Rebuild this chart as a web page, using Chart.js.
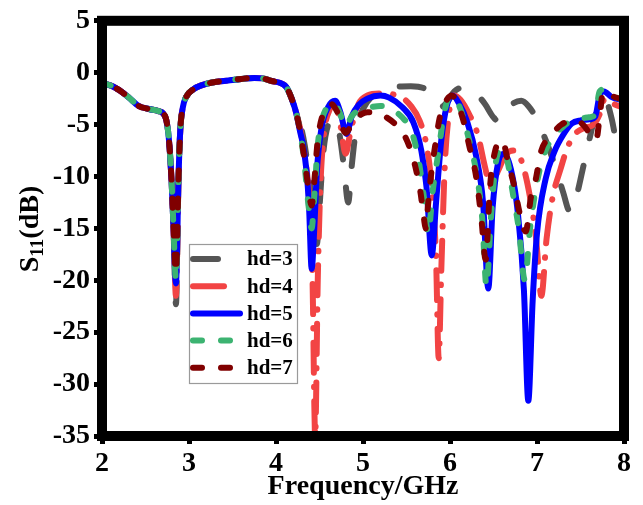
<!DOCTYPE html>
<html>
<head>
<meta charset="utf-8">
<script src="https://cdn.jsdelivr.net/npm/chart.js@4.4.1/dist/chart.umd.min.js"></script>
<style>
  html, body { margin: 0; padding: 0; background: #fff; }
  #wrap { width: 643px; height: 505px; }
</style>
</head>
<body>
<div id="wrap"><canvas id="s11-chart" width="643" height="505"></canvas></div>
<script>
'use strict';

// *** DATA ***

let seriesNames = ['hd=3', 'hd=4', 'hd=5', 'hd=6', 'hd=7'];
let seriesColors = ['#555555', '#f24444', '#0000ff', '#3cb371', '#800000'];

let xTicks = [2, 3, 4, 5, 6, 7, 8];
let yTicks = [-35, -30, -25, -20, -15, -10, -5, 0, 5];

// low band is the same for every hd
let sharedFreqA = [2.0, 2.05, 2.12, 2.2, 2.31, 2.42, 2.54, 2.65, 2.7, 2.74, 2.77, 2.8, 2.82];
let sharedS11A = [-1.0, -1.1, -1.3, -1.7, -2.4, -3.2, -3.5, -3.7, -3.9, -4.6, -6.5, -10.5, -14.5];

let firstDipFreq = 2.85;
let firstDipS11 = [-22.3, -21.5, -20.3, -20.0, -19.3];

let sharedFreqB = [2.88, 2.9, 2.93, 2.97, 3.05, 3.15, 3.3, 3.45, 3.6, 3.75, 3.85, 3.95, 4.05, 4.12, 4.18, 4.23];
let sharedS11B = [-10, -5.5, -3.3, -2.3, -1.6, -1.2, -0.9, -0.75, -0.6, -0.5, -0.55, -0.8, -1.0, -1.4, -2.5, -3.8];

// hd=3
let hd3Freq = [4.28, 4.33, 4.38, 4.43, 4.47, 4.5, 4.54, 4.6, 4.66, 4.72, 4.78, 4.83, 4.87, 4.92, 5.0, 5.1, 5.25, 5.4, 5.55, 5.7, 5.8, 5.9, 5.97, 6.05, 6.17, 6.3, 6.4, 6.5, 6.56, 6.64, 6.72, 6.82, 6.9, 7.0, 7.1, 7.2, 7.3, 7.38, 7.45, 7.52, 7.6, 7.68, 7.75, 7.8, 7.86, 7.92, 8.0];
let hd3S11 = [-5.0, -7.0, -10, -14, -16.5, -13, -8, -5, -4.5, -5.5, -9, -12.5, -9, -5.5, -3.5, -2.3, -1.6, -1.35, -1.3, -1.5, -2.3, -3.3, -2.8, -1.8, -1.4, -2.0, -3.0, -4.3, -4.7, -3.8, -3.0, -2.7, -3.2, -4.5, -6.5, -8.8, -11.5, -13.4, -12, -9.5, -6.5, -3.8, -2.6, -2.8, -4.5, -7, -8.5];

// hd=4
let hd4Freq = [4.28, 4.33, 4.38, 4.42, 4.45, 4.48, 4.51, 4.55, 4.62, 4.68, 4.74, 4.8, 4.86, 4.95, 5.05, 5.2, 5.35, 5.45, 5.55, 5.65, 5.73, 5.79, 5.84, 5.87, 5.9, 5.94, 5.98, 6.04, 6.12, 6.22, 6.32, 6.4, 6.47, 6.55, 6.65, 6.75, 6.83, 6.92, 6.99, 7.05, 7.11, 7.18, 7.27, 7.35, 7.45, 7.55, 7.65, 7.72, 7.78, 7.88, 8.0];
let hd4S11 = [-5.5, -8, -12, -20, -35, -20, -11, -6, -3.5, -3.0, -5, -7.8, -5.5, -3.0, -2.2, -2.0, -2.1, -2.4, -3.2, -4.6, -7, -11, -18, -27.5, -19, -9, -4.5, -2.2, -2.6, -4, -6, -9, -11, -9.5, -7.8, -7.5, -8.7, -12, -16, -21.5, -16, -12, -9.3, -7.2, -5.8, -5.3, -5.0, -4, -2.5, -3.0, -3.4];

// hd=5
let hd5Freq = [4.28, 4.3, 4.35, 4.38, 4.41, 4.44, 4.47, 4.52, 4.6, 4.68, 4.74, 4.81, 4.87, 4.95, 5.05, 5.2, 5.3, 5.45, 5.58, 5.67, 5.73, 5.79, 5.84, 5.9, 5.96, 6.03, 6.1, 6.2, 6.3, 6.38, 6.44, 6.49, 6.55, 6.62, 6.7, 6.78, 6.85, 6.9, 6.95, 7.0, 7.1, 7.2, 7.3, 7.4, 7.5, 7.6, 7.67, 7.72, 7.77, 7.85, 7.95, 8.0];
let hd5S11 = [-5.8, -6.5, -9.4, -13, -18.9, -15, -9.5, -5.5, -3.3, -2.7, -3.8, -5.9, -4.2, -3.1, -2.5, -2.2, -2.4, -3.3, -4.8, -7.5, -11, -17.6, -12.5, -6.5, -3.3, -2.2, -2.9, -4.8, -8, -12.5, -20.8, -13, -8.8, -7.8, -9.3, -13.5, -21, -31.6, -22, -15.5, -10.2, -7.6, -6, -4.9, -4.6, -4.5, -4.2, -2.2, -1.8, -2.3, -2.6, -2.7];

// hd=6
let hd6Freq = [4.28, 4.33, 4.37, 4.41, 4.44, 4.48, 4.53, 4.6, 4.66, 4.73, 4.8, 4.87, 4.95, 5.1, 5.2, 5.32, 5.45, 5.55, 5.63, 5.7, 5.75, 5.8, 5.87, 5.93, 6.0, 6.05, 6.12, 6.22, 6.3, 6.37, 6.42, 6.47, 6.53, 6.6, 6.66, 6.72, 6.79, 6.86, 6.92, 6.98, 7.05, 7.15, 7.3, 7.4, 7.5, 7.6, 7.67, 7.72, 7.77, 7.85, 7.95, 8.0];
let hd6S11 = [-5.8, -9, -12.5, -15, -12, -7, -4.5, -3.2, -2.9, -3.8, -5.2, -4.2, -3.6, -3.3, -3.2, -3.5, -4.3, -5.5, -8, -12, -15.5, -11.5, -7.5, -4, -2.3, -2.4, -3.5, -6.5, -9.5, -14, -20.6, -14, -8.5, -7.3, -8.5, -11.5, -15, -20, -15, -11.5, -8.7, -6.6, -5.2, -4.6, -4.4, -4.3, -4.0, -1.8, -1.6, -2.1, -2.5, -2.6];

// hd=7
let hd7Freq = [4.28, 4.33, 4.37, 4.41, 4.44, 4.48, 4.54, 4.63, 4.7, 4.8, 4.87, 4.95, 5.05, 5.15, 5.25, 5.35, 5.46, 5.55, 5.6, 5.66, 5.7, 5.72, 5.75, 5.78, 5.83, 5.88, 5.95, 6.02, 6.08, 6.15, 6.22, 6.3, 6.36, 6.41, 6.46, 6.52, 6.6, 6.67, 6.74, 6.8, 6.87, 6.93, 6.98, 7.05, 7.15, 7.28, 7.45, 7.55, 7.63, 7.68, 7.72, 7.76, 7.85, 7.95, 8.0];
let hd7S11 = [-5.8, -8.5, -11, -12.8, -10.5, -6.5, -4, -3.0, -3.7, -5.8, -5.0, -4.2, -3.8, -3.8, -4.2, -4.8, -5.8, -7.5, -9, -11.5, -14, -15, -12.5, -10, -7, -4.4, -2.8, -2.2, -2.8, -4.5, -7, -10, -14, -18, -11, -7.5, -6.5, -8.7, -11, -13.5, -15.3, -12, -10.5, -7.5, -6.2, -5, -4.6, -5.2, -6.2, -6.5, -4.3, -1.8, -2.2, -2.5, -2.6];

let highFreqs = [hd3Freq, hd4Freq, hd5Freq, hd6Freq, hd7Freq];
let highS11s = [hd3S11, hd4S11, hd5S11, hd6S11, hd7S11];

// *** STYLE ***

let fontFamily = "'Liberation Serif', 'Times New Roman', serif";
let lineDashes = [[24, 28], [30, 14, 0.5, 14], [], [9, 19], [9, 19]];
let dashOffsets = [0, 0, 0, 0, 12];
let drawOrder = [5, 4, 3, 2, 1];

// *** HELPERS ***

function buildPoints(i) {
  let pts = [];
  for (let k = 0; k < sharedFreqA.length; k++) {
    pts.push({ x: sharedFreqA[k], y: sharedS11A[k] });
  }
  pts.push({ x: firstDipFreq, y: firstDipS11[i] });
  for (let k = 0; k < sharedFreqB.length; k++) {
    pts.push({ x: sharedFreqB[k], y: sharedS11B[k] });
  }
  for (let k = 0; k < highFreqs[i].length; k++) {
    pts.push({ x: highFreqs[i][k], y: highS11s[i][k] });
  }
  return pts;
}

let datasets = [];
for (let i = 0; i < seriesNames.length; i++) {
  datasets.push({
    label: seriesNames[i],
    data: buildPoints(i),
    borderColor: seriesColors[i],
    backgroundColor: seriesColors[i],
    borderWidth: 6,
    borderDash: lineDashes[i],
    borderDashOffset: dashOffsets[i],
    borderCapStyle: 'round',
    borderJoinStyle: 'round',
    pointRadius: 0,
    cubicInterpolationMode: 'monotone',
    fill: false,
    order: drawOrder[i]
  });
}

// *** PLUGINS ***

// thick black frame round the plot
let framePlugin = {
  id: 'frame',
  afterDatasetsDraw(chart) {
    let a = chart.chartArea;
    let ctx = chart.ctx;
    ctx.save();
    ctx.strokeStyle = '#000';
    ctx.lineWidth = 10;
    ctx.lineJoin = 'miter';
    ctx.strokeRect(a.left, a.top, a.right - a.left, a.bottom - a.top);
    ctx.restore();
  }
};

// y title with subscript, and the boxed legend
let extrasPlugin = {
  id: 'extras',
  afterDraw(chart) {
    let ctx = chart.ctx;
    ctx.save();

    // S11(dB)
    let mainFont = 'bold 28px ' + fontFamily;
    let subFont = 'bold 19px ' + fontFamily;
    ctx.translate(31, 229);
    ctx.rotate(-Math.PI / 2);
    ctx.fillStyle = '#000';
    ctx.textBaseline = 'middle';
    ctx.textAlign = 'left';
    ctx.font = mainFont;
    let wS = ctx.measureText('S').width;
    let wDB = ctx.measureText('(dB)').width;
    ctx.font = subFont;
    let wSub = ctx.measureText('11').width;
    let startX = -(wS + wSub + wDB) / 2;
    ctx.font = mainFont;
    ctx.fillText('S', startX, 0);
    ctx.font = subFont;
    ctx.fillText('11', startX + wS, 7);
    ctx.font = mainFont;
    ctx.fillText('(dB)', startX + wS + wSub, 0);
    ctx.setTransform(1, 0, 0, 1, 0, 0);

    // legend box
    ctx.fillStyle = '#fff';
    ctx.fillRect(189, 244, 108, 139);
    ctx.strokeStyle = '#9a9a9a';
    ctx.lineWidth = 1.2;
    ctx.strokeRect(189.5, 244.5, 108, 139);

    let sampleEnds = [218, 224, 240, 232, 232];
    let sampleDash = [[], [], [], [9, 19], [9, 19]];
    for (let i = 0; i < seriesNames.length; i++) {
      let y = 259 + i * 27.2;
      ctx.beginPath();
      ctx.strokeStyle = seriesColors[i];
      ctx.lineWidth = 6;
      ctx.lineCap = 'round';
      ctx.setLineDash(sampleDash[i]);
      ctx.moveTo(193, y);
      ctx.lineTo(sampleEnds[i], y);
      ctx.stroke();
      ctx.setLineDash([]);
      ctx.fillStyle = '#000';
      ctx.font = 'bold 21px ' + fontFamily;
      ctx.textBaseline = 'middle';
      ctx.textAlign = 'left';
      ctx.fillText(seriesNames[i], 247, y + 1);
    }
    ctx.restore();
  }
};

// *** CHART ***

let canvasElem = document.getElementById('s11-chart');

let tickFont = { family: fontFamily, size: 28, weight: 'bold' };

new Chart(canvasElem, {
  type: 'line',
  data: { datasets: datasets },
  options: {
    responsive: false,
    animation: false,
    devicePixelRatio: 1,
    layout: { padding: { top: 15, right: 19, left: 0, bottom: 0 } },
    plugins: {
      legend: { display: false },
      tooltip: { enabled: false }
    },
    scales: {
      x: {
        type: 'linear',
        min: xTicks[0],
        max: xTicks[xTicks.length - 1],
        afterBuildTicks(scale) {
          scale.ticks = xTicks.map(v => ({ value: v }));
        },
        afterFit(scale) { scale.height = 69; },
        border: { display: false },
        grid: {
          drawOnChartArea: false,
          drawTicks: true,
          tickLength: 8,
          tickWidth: 5,
          tickColor: '#000'
        },
        ticks: {
          color: '#000',
          font: tickFont,
          padding: 3,
          maxRotation: 0,
          callback: v => String(v)
        },
        title: {
          display: true,
          text: 'Frequency/GHz',
          color: '#000',
          font: { family: fontFamily, size: 28, weight: 'bold' },
          padding: { top: 0, bottom: 1 }
        }
      },
      y: {
        type: 'linear',
        min: yTicks[0],
        max: yTicks[yTicks.length - 1],
        afterBuildTicks(scale) {
          scale.ticks = yTicks.map(v => ({ value: v }));
        },
        afterFit(scale) { scale.width = 102; },
        border: { display: false },
        grid: {
          drawOnChartArea: false,
          drawTicks: true,
          tickLength: 8,
          tickWidth: 5,
          tickColor: '#000'
        },
        ticks: {
          color: '#000',
          font: tickFont,
          padding: 4,
          callback: v => String(v)
        }
      }
    }
  },
  plugins: [framePlugin, extrasPlugin]
});
</script>
</body>
</html>
